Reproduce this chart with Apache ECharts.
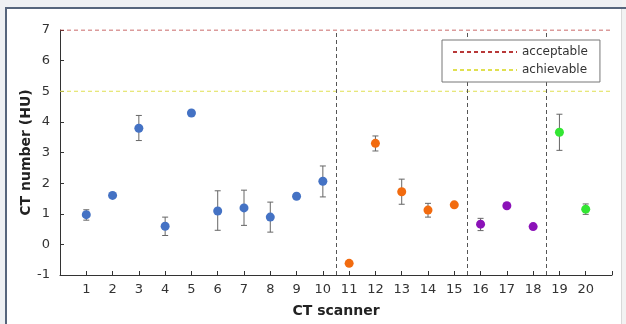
<!DOCTYPE html>
<html>
<head>
<meta charset="utf-8">
<script src="https://cdn.jsdelivr.net/npm/echarts@6/dist/echarts.min.js"></script>
<style>
html, body { margin: 0; padding: 0; background: #fff; }
#main { width: 626px; height: 324px; }
</style>
</head>
<body>
<div id="main"></div>
<script>
// scanner number, mean CT number, error bar low / high (null = no visible bar)
const scanners = [1, 2, 3, 4, 5, 6, 7, 8, 9, 10, 11, 12, 13, 14, 15, 16, 17, 18, 19, 20];
const ctValues = [0.97, 1.6, 3.79, 0.59, 4.29, 1.09, 1.19, 0.89, 1.57, 2.06, -0.62, 3.3, 1.72, 1.12, 1.29, 0.66, 1.26, 0.58, 3.66, 1.15];
const errLow = [0.79, null, 3.39, 0.29, null, 0.46, 0.62, 0.4, null, 1.55, null, 3.05, 1.31, 0.89, null, 0.45, 1.19, null, 3.07, 0.98];
const errHigh = [1.13, null, 4.21, 0.89, null, 1.75, 1.77, 1.38, null, 2.56, null, 3.54, 2.13, 1.34, null, 0.85, 1.33, null, 4.25, 1.32];
// colour group of each scanner
const groupOf = [0, 0, 0, 0, 0, 0, 0, 0, 0, 0, 1, 1, 1, 1, 1, 2, 2, 2, 3, 3];
const groupColors = ['#4472c4', '#f26b0f', '#8b12b8', '#33e633'];
const dividers = [10.5, 15.5, 18.5];
const acceptable = 7;
const achievable = 5;

const font = 'DejaVu Sans';

const pointSeries = groupColors.map((c, g) => ({
    type: 'scatter',
    symbolSize: 9,
    z: 4,
    itemStyle: { color: c, opacity: 1 },
    data: scanners
        .map((s, i) => (groupOf[i] === g ? [s, ctValues[i]] : null))
        .filter((d) => d)
}));

const errData = scanners
    .map((s, i) => (errLow[i] == null ? null : [s, errLow[i], errHigh[i]]))
    .filter((d) => d);

const option = {
    backgroundColor: '#fff',
    animation: false,
    grid: { left: 60, right: 14, top: 30, bottom: 49, outerBoundsMode: 'none' },
    legend: {
        data: ['acceptable', 'achievable'],
        orient: 'vertical',
        left: 442,
        top: 40,
        itemWidth: 64,
        itemHeight: 10,
        itemGap: 6,
        padding: [6, 12, 6, 10],
        backgroundColor: '#fff',
        borderColor: '#777',
        borderWidth: 1,
        itemStyle: { opacity: 0 },
        textStyle: { fontFamily: font, fontSize: 12, color: '#333' },
        z: 10
    },
    xAxis: {
        type: 'value',
        min: 0,
        max: 21,
        interval: 1,
        name: 'CT scanner',
        nameLocation: 'middle',
        nameGap: 29,
        nameMoveOverlap: false,
        nameTextStyle: { fontFamily: font, fontSize: 14, fontWeight: 'bold', color: '#222' },
        axisLine: { onZero: false, lineStyle: { color: '#333' } },
        axisTick: { inside: true, length: 4, lineStyle: { color: '#333' } },
        axisLabel: {
            fontFamily: font,
            fontSize: 13,
            color: '#333',
            margin: 8,
            formatter: (v) => (v >= 1 && v <= 20 ? String(v) : '')
        },
        splitLine: { show: false }
    },
    yAxis: {
        type: 'value',
        min: -1,
        max: 7,
        interval: 1,
        name: 'CT number (HU)',
        nameLocation: 'middle',
        nameGap: 27,
        nameMoveOverlap: false,
        nameTextStyle: { fontFamily: font, fontSize: 14, fontWeight: 'bold', color: '#222' },
        axisLine: { show: true, onZero: false, lineStyle: { color: '#333' } },
        axisTick: { show: true, inside: true, length: 4, lineStyle: { color: '#333' } },
        axisLabel: { fontFamily: font, fontSize: 13, color: '#333', margin: 10 },
        splitLine: { show: false }
    },
    graphic: [
        { type: 'rect', shape: { x: 0, y: 0, width: 626, height: 7 }, style: { fill: '#eef0f3' }, z: 100 },
        { type: 'rect', shape: { x: 0, y: 0, width: 5, height: 324 }, style: { fill: '#eef0f3' }, z: 100 },
        { type: 'rect', shape: { x: 622, y: 0, width: 4, height: 324 }, style: { fill: '#f2f2f2' }, z: 100 },
        { type: 'line', shape: { x1: 5, y1: 8, x2: 626, y2: 8 }, style: { stroke: '#56657c', lineWidth: 2 }, z: 101 },
        { type: 'line', shape: { x1: 6, y1: 8, x2: 6, y2: 324 }, style: { stroke: '#56657c', lineWidth: 2 }, z: 101 },
        { type: 'line', shape: { x1: 621.5, y1: 9, x2: 621.5, y2: 324 }, style: { stroke: '#d8d8d8', lineWidth: 1 }, z: 101 }
    ],
    series: [
        {
            name: 'acceptable',
            type: 'line',
            symbol: 'none',
            z: 2,
            lineStyle: { color: '#b83838', width: 1, type: [4, 3] },
            itemStyle: { color: '#b83838' },
            data: [[0, acceptable], [21, acceptable]]
        },
        {
            name: 'achievable',
            type: 'line',
            symbol: 'none',
            z: 2,
            lineStyle: { color: '#e0e050', width: 1, type: [4, 3] },
            itemStyle: { color: '#e0e050' },
            data: [[0, achievable], [21, achievable]]
        },
        {
            type: 'line',
            data: [],
            markLine: {
                silent: true,
                symbol: 'none',
                label: { show: false },
                lineStyle: { color: '#555', width: 1, type: [4, 3] },
                data: dividers.map((d) => ({ xAxis: d }))
            }
        },
        {
            type: 'custom',
            z: 3,
            data: errData,
            renderItem: (params, api) => {
                const lo = api.coord([api.value(0), api.value(1)]);
                const hi = api.coord([api.value(0), api.value(2)]);
                const w = 3;
                const style = { stroke: '#666', lineWidth: 1 };
                return {
                    type: 'group',
                    children: [
                        { type: 'line', shape: { x1: lo[0], y1: lo[1], x2: hi[0], y2: hi[1] }, style },
                        { type: 'line', shape: { x1: lo[0] - w, y1: lo[1], x2: lo[0] + w, y2: lo[1] }, style },
                        { type: 'line', shape: { x1: hi[0] - w, y1: hi[1], x2: hi[0] + w, y2: hi[1] }, style }
                    ]
                };
            }
        }
    ].concat(pointSeries)
};

const chart = echarts.init(document.getElementById('main'));
chart.setOption(option);
</script>
</body>
</html>
